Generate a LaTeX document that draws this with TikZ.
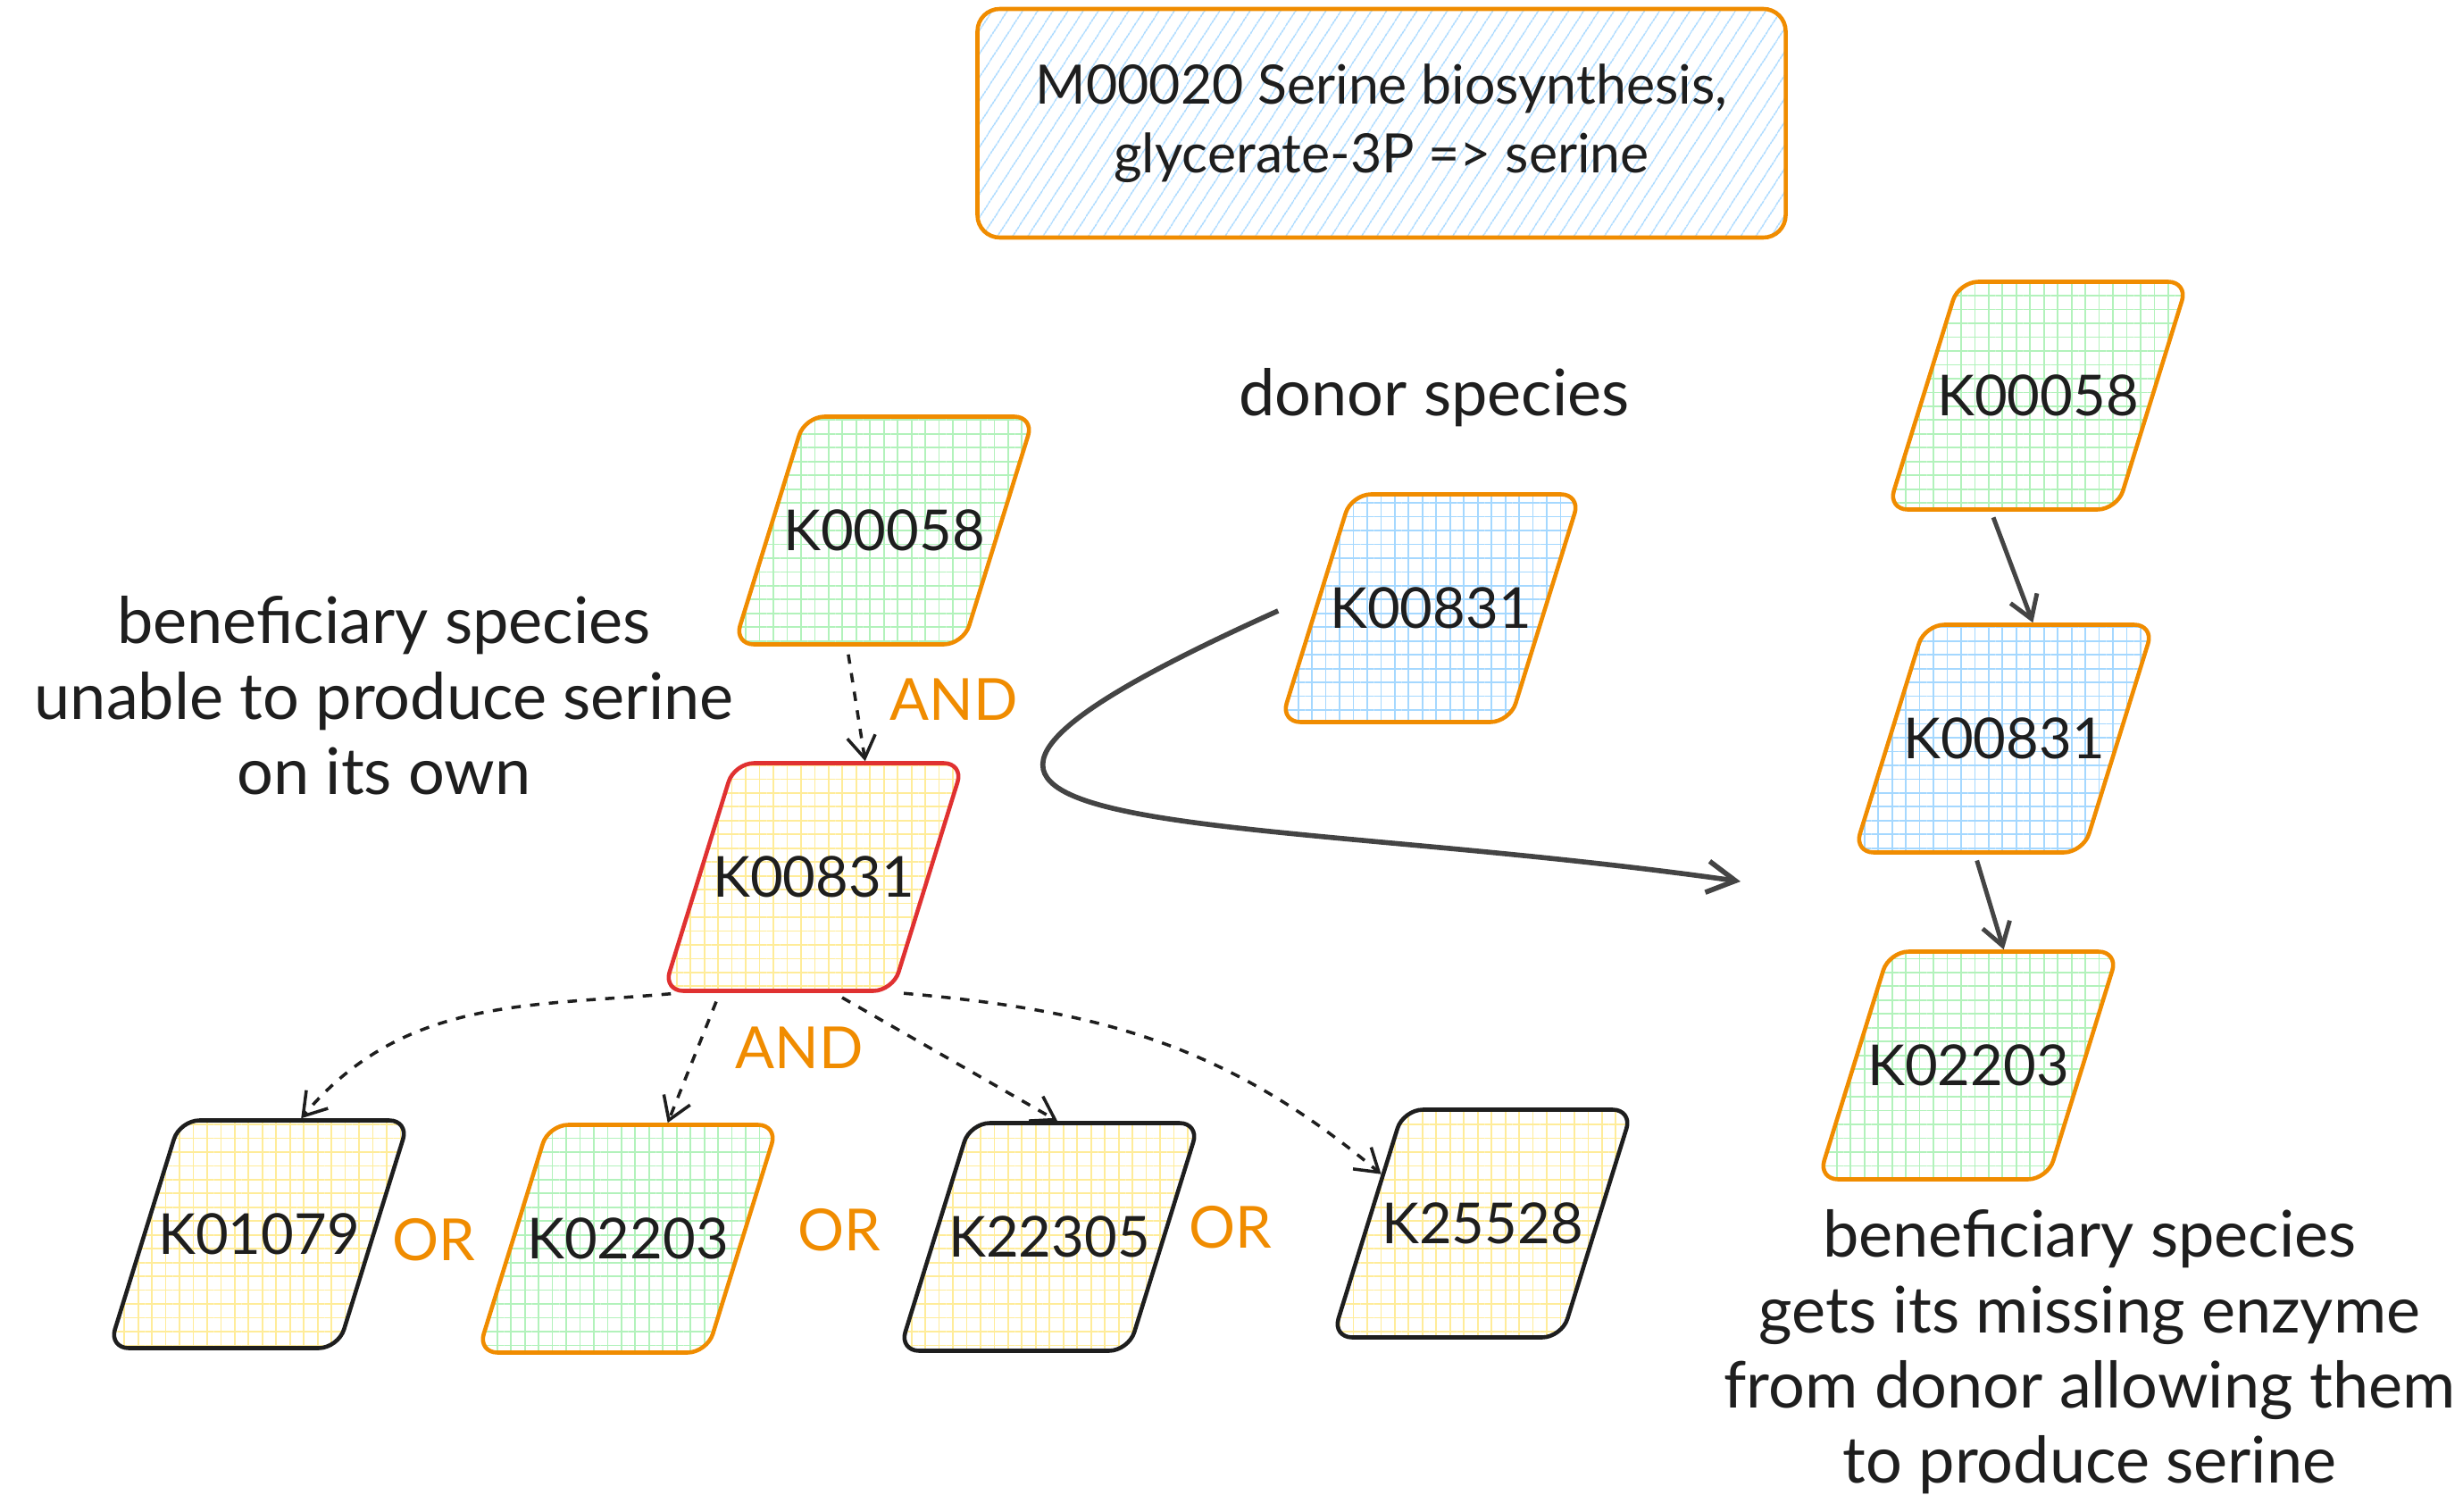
\documentclass[tikz,border=0pt]{standalone}
\usepackage{fontspec}
\setmainfont{Lato}
\usepackage{tikz}
\usetikzlibrary{arrows.meta,
shapes.geometric,
patterns.meta
}
\definecolor{exOrange}{HTML}{F08C00}
\definecolor{exRed}{HTML}{E03131}
\definecolor{exInk}{HTML}{1E1E1E}
\definecolor{exGrey}{HTML}{444444}
\definecolor{exGreen}{HTML}{B2F2BB}
\definecolor{exYellow}{HTML}{FFEC99}
\definecolor{exBlue}{HTML}{A5D8FF}
\tikzset{>={Straight Barb[length=7pt,width=9pt]}}
\tikzset{
  kobox/.style={trapezium, trapezium left angle=48, trapezium right angle=132,
    trapezium stretches=true, minimum width=1cm, minimum height=2.55cm,
    text height=13pt, text depth=0pt, inner ysep=6pt, inner xsep=-0.24cm,
    rounded corners=0.22cm, line width=1.3pt, text=exInk,
    font=\fontsize{18}{22}\selectfont},
  kfill/.style={pattern={Hatch[angle=0,distance=4.4pt,line width=0.5pt]}, pattern color=#1},
  note/.style={align=center, text=exInk, font=\fontsize{20.5}{24}\selectfont},
  logic/.style={text=exOrange, font=\fontsize{18.5}{22}\selectfont},
  dasharrow/.style={->, dash pattern=on 3pt off 3pt, line width=1pt, exInk, shorten <=3pt},
  solidarrow/.style={->, line width=1.4pt, exGrey, shorten <=2pt},
  bigarrow/.style={-{Straight Barb[length=9pt,width=10pt]}, line width=1.6pt, exGrey}
}

\begin{document}
\begin{tikzpicture}
    \path[use as bounding box, fill=white] (0,0) rectangle (27.58,-16.92);

    % module title
    \node[rectangle, draw=exOrange, line width=1.3pt, rounded corners=0.25cm,
        minimum width=9.05cm, minimum height=2.56cm,
        pattern={Lines[angle=57,distance=4pt,line width=0.45pt]}, pattern color=exBlue,
        align=center, text=exInk, font=\fontsize{17.3}{22}\selectfont]
        (title) at (15.47,-1.38) {M00020 Serine biosynthesis,\\glycerate-3P => serine};

    % beneficiary species, on its own
    \node[note] (benef) at (4.30,-7.79) {beneficiary species\\unable to produce serine\\on its own};
    \node[kobox, draw=exOrange, kfill=exGreen] (k58b) at (9.90,-5.94) {K00058};
    \node[kobox, draw=exRed, kfill=exYellow] (k831b) at (9.11,-9.82) {K00831};
    \node[kobox, draw=exInk, kfill=exYellow] (k1079) at (2.90,-13.82) {K01079};
    \node[kobox, draw=exOrange, kfill=exGreen] (k2203) at (7.03,-13.87) {K02203};
    \node[kobox, draw=exInk, kfill=exYellow] (k22305) at (11.75,-13.85) {K22305};
    \node[kobox, draw=exInk, kfill=exYellow] (k25528) at (16.60,-13.70) {K25528};

    \node[logic] (and1) at (10.68,-7.83) {AND};
    \node[logic] (and2) at (8.95,-11.73) {AND};
    \node[logic] (or1) at (4.86,-13.88) {OR};
    \node[logic] (or2) at (9.40,-13.77) {OR};
    \node[logic] (or3) at (13.78,-13.74) {OR};

    \draw[dasharrow] (k58b.252) -- (k831b.66);
    \draw[dasharrow] (k831b.221) to[out=185,in=50] (k1079.70);
    \draw[dasharrow] (k831b.231) -- (k2203.71);
    \draw[dasharrow] (k831b.280) -- (k22305.86);
    \draw[dasharrow] (k831b.305) to[out=-5,in=140] (k25528.154);

    % donor species
    \node[note] (donor) at (16.06,-4.45) {donor species};
    \node[kobox, draw=exOrange, kfill=exBlue] (k831d) at (16.02,-6.81) {K00831};

    % beneficiary species with the donor's enzyme
    \node[kobox, draw=exOrange, kfill=exGreen] (k58r) at (22.82,-4.43) {K00058};
    \node[kobox, draw=exOrange, kfill=exBlue] (k831r) at (22.44,-8.27) {K00831};
    \node[kobox, draw=exOrange, kfill=exGreen] (k2203r) at (22.04,-11.93) {K02203};
    \node[note] (gets) at (23.40,-15.14) {beneficiary species\\gets its missing enzyme\\from donor allowing them\\to produce serine};

    \draw[solidarrow] (k58r.248) -- (k831r.76);
    \draw[solidarrow] (k831r.256) -- (k2203r.73);

    \coordinate (gift) at (19.49,-9.87);
    \draw[bigarrow, shorten <=0.5cm] (k831d.172) .. controls (8.36,-9.52) and (13.55,-9.03) .. (gift);
\end{tikzpicture}
\end{document}
